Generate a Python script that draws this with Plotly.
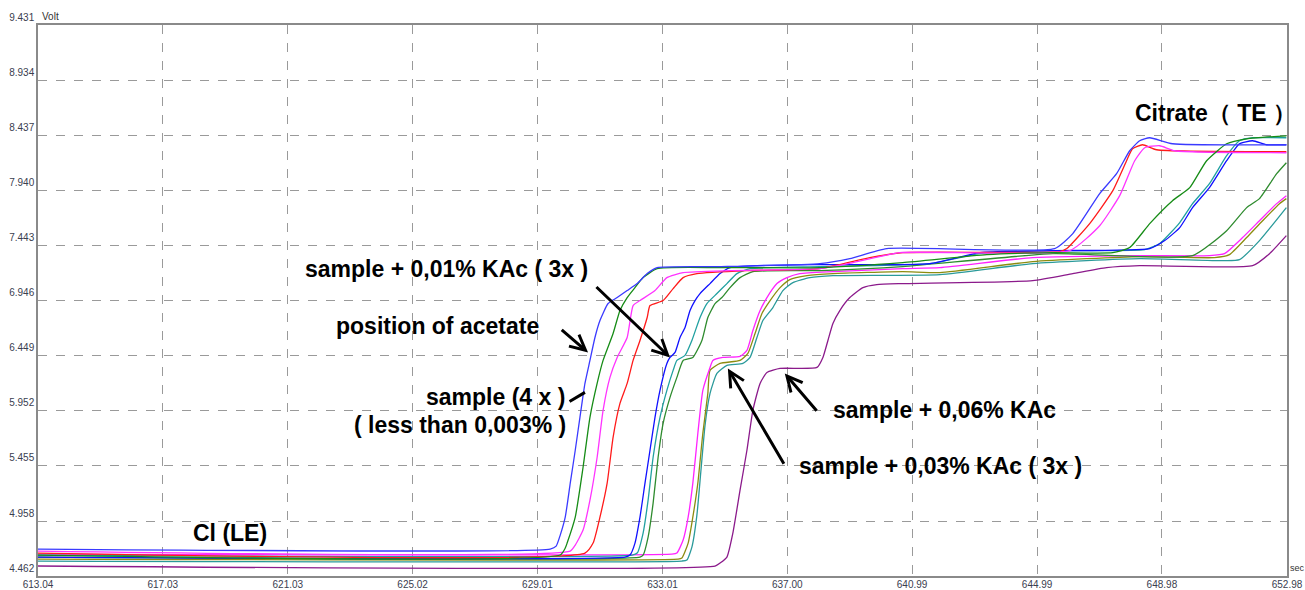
import plotly.graph_objects as go

# ---------------- axis ticks ----------------
x_ticks = [613.04, 617.03, 621.03, 625.02, 629.01, 633.01, 637.00, 640.99, 644.99, 648.98, 652.98]
x_tick_labels = ["613.04", "617.03", "621.03", "625.02", "629.01", "633.01", "637.00", "640.99", "644.99", "648.98", "652.98"]
y_ticks = [4.462, 4.958, 5.455, 5.952, 6.449, 6.946, 7.443, 7.940, 8.437, 8.934, 9.431]
y_tick_labels = ["4.462", "4.958", "5.455", "5.952", "6.449", "6.946", "7.443", "7.940", "8.437", "8.934", "9.431"]

# ---------------- series (time in s, voltage in V) ----------------
# sample (4x)
a_blue_t = [613.04, 629.42, 629.61, 629.74, 629.90, 630.06, 630.22, 630.37, 630.53, 630.69, 630.85, 631.01, 631.27, 631.56, 631.88, 632.20, 632.52, 632.84, 634.85, 638.04, 639.00, 640.18, 645.55, 646.13, 646.99, 647.53, 647.95, 648.27, 648.59, 649.32, 652.96]
a_blue_v = [4.705, 4.705, 4.732, 4.831, 4.993, 5.299, 5.596, 5.893, 6.199, 6.406, 6.613, 6.766, 6.919, 6.973, 7.036, 7.099, 7.189, 7.243, 7.252, 7.279, 7.324, 7.415, 7.415, 7.550, 7.910, 8.090, 8.297, 8.387, 8.414, 8.360, 8.351]

a_green_t = [613.04, 629.74, 629.90, 629.96, 630.22, 630.47, 630.69, 630.92, 631.11, 631.43, 631.65, 631.88, 632.13, 632.39, 632.84, 634.85, 638.04, 640.69, 643.38, 645.49, 647.41, 647.95, 648.59, 649.32, 649.87, 650.41, 651.05, 651.69, 652.96]
a_green_v = [4.651, 4.651, 4.714, 4.759, 4.993, 5.443, 5.893, 6.199, 6.406, 6.649, 6.856, 6.973, 7.063, 7.153, 7.234, 7.243, 7.243, 7.288, 7.360, 7.378, 7.378, 7.424, 7.640, 7.847, 7.964, 8.207, 8.360, 8.405, 8.432]

a_magenta_t = [613.04, 630.06, 630.22, 630.47, 630.69, 630.92, 631.11, 631.33, 631.56, 631.88, 632.07, 632.29, 632.77, 633.15, 633.67, 635.17, 638.04, 639.10, 640.60, 646.03, 646.99, 647.63, 648.11, 648.43, 648.91, 649.39, 652.96]
a_magenta_v = [4.687, 4.687, 4.741, 4.876, 5.146, 5.533, 5.956, 6.253, 6.433, 6.613, 6.901, 6.946, 7.036, 7.153, 7.198, 7.216, 7.234, 7.288, 7.378, 7.396, 7.621, 7.892, 8.207, 8.324, 8.342, 8.297, 8.279]

a_red_t = [613.04, 630.53, 630.79, 631.01, 631.24, 631.43, 631.65, 631.88, 632.07, 632.29, 632.52, 632.61, 633.03, 633.35, 633.67, 634.11, 635.71, 638.04, 639.64, 640.69, 645.71, 645.94, 646.67, 647.41, 647.85, 648.04, 648.36, 648.81, 652.96]
a_red_v = [4.669, 4.669, 4.759, 4.993, 5.299, 5.713, 6.019, 6.199, 6.406, 6.586, 6.793, 6.901, 6.946, 7.054, 7.153, 7.189, 7.216, 7.234, 7.333, 7.378, 7.387, 7.415, 7.640, 7.937, 8.207, 8.315, 8.351, 8.306, 8.288]

# sample + 0,01% KAc (3x)
b_blue_t = [613.04, 631.81, 631.97, 632.13, 632.29, 632.45, 632.61, 632.77, 632.93, 633.15, 633.25, 633.41, 633.57, 633.73, 633.89, 634.05, 634.21, 634.53, 634.85, 635.17, 636.03, 638.04, 641.56, 643.16, 645.49, 648.59, 649.07, 649.55, 649.96, 650.50, 651.05, 651.46, 651.88, 652.33, 652.96]
b_blue_v = [4.633, 4.633, 4.651, 4.759, 4.993, 5.299, 5.596, 5.893, 6.136, 6.379, 6.433, 6.478, 6.613, 6.703, 6.856, 6.946, 7.009, 7.099, 7.189, 7.243, 7.261, 7.270, 7.279, 7.378, 7.396, 7.415, 7.487, 7.604, 7.784, 7.964, 8.207, 8.360, 8.387, 8.351, 8.351]

b_teal_t = [613.04, 632.04, 632.20, 632.39, 632.55, 632.71, 632.93, 633.15, 633.35, 633.47, 633.73, 633.95, 634.21, 634.43, 634.75, 635.07, 635.39, 635.81, 638.04, 641.56, 643.16, 645.49, 648.43, 648.91, 649.55, 649.96, 650.50, 651.05, 651.46, 651.88, 652.96]
b_teal_v = [4.651, 4.651, 4.669, 4.849, 5.146, 5.533, 5.893, 6.136, 6.316, 6.406, 6.451, 6.586, 6.793, 6.919, 7.009, 7.099, 7.189, 7.234, 7.252, 7.279, 7.369, 7.396, 7.405, 7.460, 7.649, 7.820, 8.000, 8.252, 8.387, 8.414, 8.414]

b_green_t = [613.04, 632.29, 632.39, 632.55, 632.71, 632.87, 633.03, 633.25, 633.47, 633.67, 633.98, 634.27, 634.46, 634.69, 634.91, 635.17, 635.49, 635.90, 638.04, 640.69, 645.49, 649.96, 651.05, 651.69, 652.10, 652.65, 652.96]
b_green_v = [4.633, 4.633, 4.651, 4.813, 5.119, 5.533, 5.839, 6.073, 6.253, 6.406, 6.433, 6.586, 6.793, 6.919, 6.973, 7.063, 7.153, 7.207, 7.216, 7.252, 7.369, 7.351, 7.576, 7.784, 7.865, 8.090, 8.189]

# sample + 0,03% KAc (3x)
c_magenta_t = [613.04, 633.31, 633.47, 633.67, 633.83, 633.98, 634.14, 634.30, 634.53, 634.62, 634.94, 635.49, 635.71, 635.90, 636.13, 636.35, 636.67, 636.99, 637.40, 638.46, 640.69, 641.88, 644.85, 648.27, 650.50, 650.98, 651.56, 652.10, 652.65, 652.96]
c_magenta_v = [4.660, 4.660, 4.669, 4.786, 4.993, 5.299, 5.749, 6.136, 6.343, 6.406, 6.433, 6.442, 6.496, 6.676, 6.856, 6.973, 7.099, 7.153, 7.189, 7.207, 7.234, 7.243, 7.333, 7.351, 7.351, 7.369, 7.514, 7.666, 7.820, 7.892]

c_olive_t = [613.04, 633.51, 633.63, 633.83, 633.98, 634.14, 634.30, 634.46, 634.53, 634.85, 635.49, 635.74, 635.97, 636.19, 636.45, 636.77, 637.08, 637.63, 638.46, 640.69, 641.88, 644.85, 648.27, 650.66, 651.14, 651.69, 652.20, 652.74, 652.96]
c_olive_v = [4.615, 4.615, 4.624, 4.759, 4.993, 5.299, 5.749, 6.109, 6.316, 6.379, 6.406, 6.469, 6.649, 6.829, 6.946, 7.063, 7.135, 7.171, 7.189, 7.207, 7.198, 7.297, 7.342, 7.333, 7.360, 7.514, 7.666, 7.820, 7.865]

c_teal_t = [613.04, 633.63, 633.79, 633.95, 634.11, 634.24, 634.37, 634.53, 634.75, 635.07, 635.58, 635.81, 636.03, 636.22, 636.54, 636.86, 637.18, 637.72, 638.46, 641.88, 644.85, 648.27, 650.98, 651.46, 652.10, 652.96]
c_teal_v = [4.597, 4.597, 4.606, 4.723, 5.011, 5.416, 5.821, 6.109, 6.289, 6.361, 6.379, 6.433, 6.613, 6.766, 6.883, 7.036, 7.108, 7.153, 7.171, 7.180, 7.279, 7.324, 7.306, 7.315, 7.487, 7.784]

# sample + 0,06% KAc
d_purple_t = [613.04, 634.69, 634.85, 635.07, 635.26, 635.49, 635.71, 635.90, 636.13, 636.35, 636.77, 637.95, 638.14, 638.30, 638.46, 638.68, 639.00, 639.42, 639.86, 640.69, 644.85, 646.13, 647.21, 648.27, 651.88, 652.42, 652.96]
d_purple_v = [4.552, 4.552, 4.579, 4.633, 4.849, 5.236, 5.596, 5.956, 6.199, 6.298, 6.334, 6.343, 6.433, 6.586, 6.739, 6.856, 6.973, 7.063, 7.090, 7.099, 7.126, 7.189, 7.243, 7.261, 7.261, 7.369, 7.532]

series = [
    (d_purple_t, d_purple_v, "#8b1a8b"),
    (c_teal_t, c_teal_v, "#2a9a9a"),
    (c_olive_t, c_olive_v, "#8c8c10"),
    (c_magenta_t, c_magenta_v, "#ff22ff"),
    (b_green_t, b_green_v, "#2e8b2e"),
    (b_teal_t, b_teal_v, "#20a0a0"),
    (b_blue_t, b_blue_v, "#1010ff"),
    (a_red_t, a_red_v, "#ff1a1a"),
    (a_magenta_t, a_magenta_v, "#ff33ff"),
    (a_green_t, a_green_v, "#168c16"),
    (a_blue_t, a_blue_v, "#3a3aff"),
]

fig = go.Figure()
for t, v, c in series:
    fig.add_trace(go.Scatter(x=t, y=v, mode="lines",
                             line=dict(color=c, width=1.3, shape="spline", smoothing=0.5),
                             showlegend=False, hoverinfo="skip"))

txt_font = dict(family="Liberation Sans, Arial, sans-serif", size=23, color="black")
labels = [
    ("sample + 0,01% KAc ( 3x )", 621.50, 7.234),
    ("position of acetate", 622.49, 6.721),
    ("sample (4 x )", 625.37, 6.073),
    ("( less than 0,003% )", 623.07, 5.821),
    ("sample + 0,06% KAc", 638.39, 5.956),
    ("sample + 0,03% KAc ( 3x )", 637.30, 5.455),
    ("Cl (LE)", 617.92, 4.849),
    ("Citrate\uff08 TE \uff09", 648.04, 8.639),
]
annotations = []
for s, x, y in labels:
    annotations.append(dict(text="<b>" + s + "</b>", x=x, y=y, xref="x", yref="y",
                            xanchor="left", yanchor="middle", showarrow=False, font=txt_font))

arrows = [
    # (tail_x, tail_y, head_x, head_y, head)
    (629.74, 6.694, 630.63, 6.478, 5),
    (630.85, 7.081, 633.25, 6.433, 5),
    (629.99, 6.028, 630.53, 6.118, 0),
    (636.92, 5.461, 635.10, 6.334, 5),
    (637.98, 5.938, 636.92, 6.289, 5),
]
for tx, ty, hx, hy, hd in arrows:
    annotations.append(dict(x=hx, y=hy, ax=tx, ay=ty, xref="x", yref="y", axref="x", ayref="y",
                            text="", showarrow=True, arrowhead=hd, arrowsize=1.0,
                            arrowwidth=3, arrowcolor="black", standoff=0))

annotations.append(dict(text="Volt", x=0, y=1, xref="paper", yref="paper", xanchor="left",
                        yanchor="bottom", xshift=2, yshift=1, showarrow=False,
                        font=dict(family="Liberation Sans, Arial, sans-serif", size=10, color="#333")))
annotations.append(dict(text="sec", x=1, y=0, xref="paper", yref="paper", xanchor="left",
                        yanchor="bottom", xshift=1, yshift=1, showarrow=False,
                        font=dict(family="Liberation Sans, Arial, sans-serif", size=9, color="#333")))

fig.update_layout(
    width=1305, height=590,
    margin=dict(l=38, r=18, t=25, b=14, autoexpand=False),
    paper_bgcolor="white", plot_bgcolor="white",
    annotations=annotations,
    font=dict(family="Liberation Sans, Arial, sans-serif", size=10, color="#333"),
)
fig.update_xaxes(range=[613.04, 652.98], tickmode="array", tickvals=x_ticks, ticktext=x_tick_labels,
                 showgrid=True, gridcolor="#9a9a9a", griddash="dash", gridwidth=1,
                 showline=True, linecolor="#8a8a8a", linewidth=1.5, mirror=True, automargin=False,
                 zeroline=False, ticks="", tickfont=dict(size=10, color="#3a4050"),
                 ticklabelstandoff=-2)
fig.update_yaxes(range=[4.462, 9.431], tickmode="array", tickvals=y_ticks, ticktext=y_tick_labels,
                 showgrid=True, gridcolor="#9a9a9a", griddash="dash", gridwidth=1,
                 showline=True, linecolor="#8a8a8a", linewidth=1.5, mirror=True, automargin=False,
                 zeroline=False, ticks="", tickfont=dict(size=10, color="#3a4050"),
                 ticklabelshift=-8, ticklabelstandoff=0)

# remove the default page margin so the figure fills the 1305x590 window exactly
fig.write_html("out.html", config={"displayModeBar": False},
               post_script="document.body.style.margin='0';document.body.style.overflow='hidden';")
